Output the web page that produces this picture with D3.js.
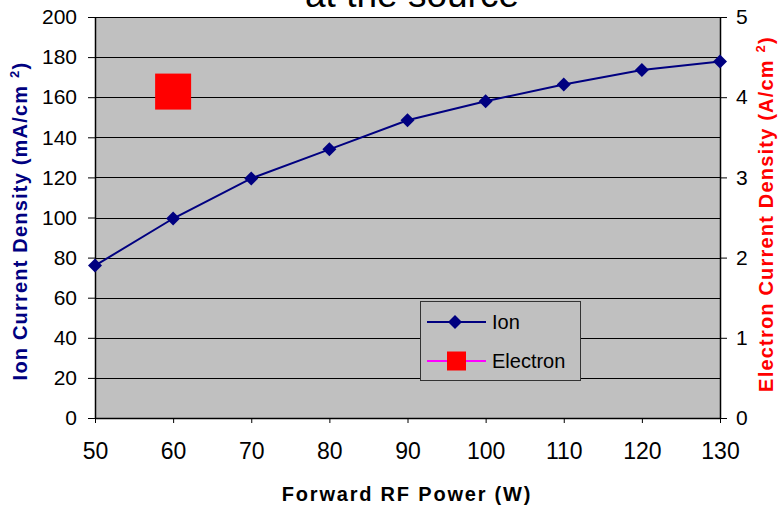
<!DOCTYPE html>
<html>
<head>
<meta charset="utf-8">
<script src="https://cdn.jsdelivr.net/npm/d3@7"></script>
<style>
  html, body { margin: 0; padding: 0; background: #fff; }
  svg { display: block; font-family: "Liberation Sans", Arial, sans-serif; }
</style>
</head>
<body>
<svg id="chart" width="778" height="507"></svg>
<script>
// chart data
const powerW = [50, 60, 70, 80, 90, 100, 110, 120, 130];
const ionDensity = [76, 99.5, 119.5, 134, 148.5, 158, 166.3, 173.6, 177.8];
const electronPower = [60];
const electronDensity = [4.07];
const leftTicks = [0, 20, 40, 60, 80, 100, 120, 140, 160, 180, 200];
const rightTicks = [0, 1, 2, 3, 4, 5];
const xTicks = [50, 60, 70, 80, 90, 100, 110, 120, 130];

const svg = d3.select("#chart");
const plot = { left: 95, right: 720, top: 17, bottom: 418 };

const x = d3.scaleLinear().domain([50, 130]).range([plot.left, plot.right]);
const yL = d3.scaleLinear().domain([0, 200]).range([plot.bottom, plot.top]);
const yR = d3.scaleLinear().domain([0, 5]).range([plot.bottom, plot.top]);

// plot background
svg.append("rect")
  .attr("x", plot.left).attr("y", plot.top)
  .attr("width", plot.right - plot.left).attr("height", plot.bottom - plot.top)
  .attr("fill", "#c0c0c0");

// gridlines
svg.append("g").selectAll("line").data(leftTicks).join("line")
  .attr("x1", plot.left).attr("x2", plot.right)
  .attr("y1", d => Math.round(yL(d)) + 0.5).attr("y2", d => Math.round(yL(d)) + 0.5)
  .attr("stroke", "#000").attr("stroke-width", 1);

// axes
function styleAxis(size) {
  return g => {
    g.attr("font-size", null).attr("font-family", null);
    g.selectAll(".domain").attr("stroke", "#000").attr("stroke-width", 1.5);
    g.selectAll(".tick line").attr("stroke", "#000");
    g.selectAll("text").attr("fill", "#000").style("font-size", size + "px");
  };
}

svg.append("g").attr("transform", `translate(${plot.left},0)`)
  .call(d3.axisLeft(yL).tickValues(leftTicks).tickSize(7).tickSizeOuter(0).tickPadding(11))
  .call(styleAxis(21));

svg.append("g").attr("transform", `translate(${plot.right},0)`)
  .call(d3.axisRight(yR).tickValues(rightTicks).tickFormat(d3.format("d"))
    .tickSize(7).tickSizeOuter(0).tickPadding(9))
  .call(styleAxis(21));

svg.append("g").attr("transform", `translate(0,${plot.bottom})`)
  .call(d3.axisBottom(x).tickValues(xTicks).tickSize(5).tickSizeOuter(0).tickPadding(20))
  .call(styleAxis(23));

// ion series
const line = d3.line().x((d, i) => x(powerW[i])).y(d => yL(d));
svg.append("path")
  .datum(ionDensity)
  .attr("d", line)
  .attr("fill", "none")
  .attr("stroke", "#000080")
  .attr("stroke-width", 2);

const diamond = "M0,-7L7,0L0,7L-7,0Z";
svg.append("g").selectAll("path").data(ionDensity).join("path")
  .attr("transform", (d, i) => `translate(${x(powerW[i])},${yL(d)})`)
  .attr("d", diamond)
  .attr("fill", "#000080");

// electron series
svg.append("g").selectAll("rect").data(electronDensity).join("rect")
  .attr("x", (d, i) => x(electronPower[i]) - 18)
  .attr("y", d => yR(d) - 18)
  .attr("width", 36).attr("height", 36)
  .attr("fill", "#ff0000");

// title (only its second line shows, top is clipped like the original)
svg.append("text")
  .attr("x", 412).attr("y", 7)
  .attr("text-anchor", "middle")
  .style("font-size", "37px")
  .attr("fill", "#000")
  .text("at the source");

// axis titles
const leftLabel = svg.append("text")
  .attr("transform", "translate(27,221) rotate(-90)")
  .attr("text-anchor", "middle")
  .style("font-size", "20px").style("font-weight", "bold").style("letter-spacing", "1.2px")
  .attr("fill", "#000080");
leftLabel.append("tspan").text("Ion Current Density (mA/cm   ");
leftLabel.append("tspan").attr("dy", -8).style("font-size", "13px").text("2");
leftLabel.append("tspan").attr("dy", 8).text(")");

const rightLabel = svg.append("text")
  .attr("transform", "translate(773,214) rotate(-90)")
  .attr("text-anchor", "middle")
  .style("font-size", "20px").style("font-weight", "bold").style("letter-spacing", "1.2px")
  .attr("fill", "#ff0000");
rightLabel.append("tspan").text("Electron Current Density (A/cm   ");
rightLabel.append("tspan").attr("dy", -8).style("font-size", "13px").text("2");
rightLabel.append("tspan").attr("dy", 8).text(")");

svg.append("text")
  .attr("x", 407).attr("y", 501)
  .attr("text-anchor", "middle")
  .style("font-size", "20px").style("font-weight", "bold").style("letter-spacing", "1.8px")
  .attr("fill", "#000")
  .text("Forward RF Power (W)");

// legend
const legend = svg.append("g").attr("transform", "translate(420,301)");
legend.append("rect")
  .attr("x", 0.5).attr("y", 0.5).attr("width", 160).attr("height", 79)
  .attr("fill", "#c0c0c0").attr("stroke", "#333").attr("stroke-width", 1);

const legendItems = [
  { name: "Ion", color: "#000080", y: 21 },
  { name: "Electron", color: "#ff00ff", y: 60 }
];
const item = legend.selectAll("g.item").data(legendItems).join("g").attr("class", "item")
  .attr("transform", d => `translate(0,${d.y})`);
item.append("line")
  .attr("x1", 7).attr("x2", 66).attr("y1", 0).attr("y2", 0)
  .attr("stroke", d => d.color).attr("stroke-width", 2);
item.filter(d => d.name === "Ion").append("path")
  .attr("transform", "translate(35,0)").attr("d", diamond).attr("fill", "#000080");
item.filter(d => d.name === "Electron").append("rect")
  .attr("x", 27).attr("y", -9.5).attr("width", 19).attr("height", 19).attr("fill", "#ff0000");
item.append("text")
  .attr("x", 72).attr("y", 0).attr("dy", "0.35em")
  .style("font-size", "20px").attr("fill", "#000")
  .text(d => d.name);
</script>
</body>
</html>
